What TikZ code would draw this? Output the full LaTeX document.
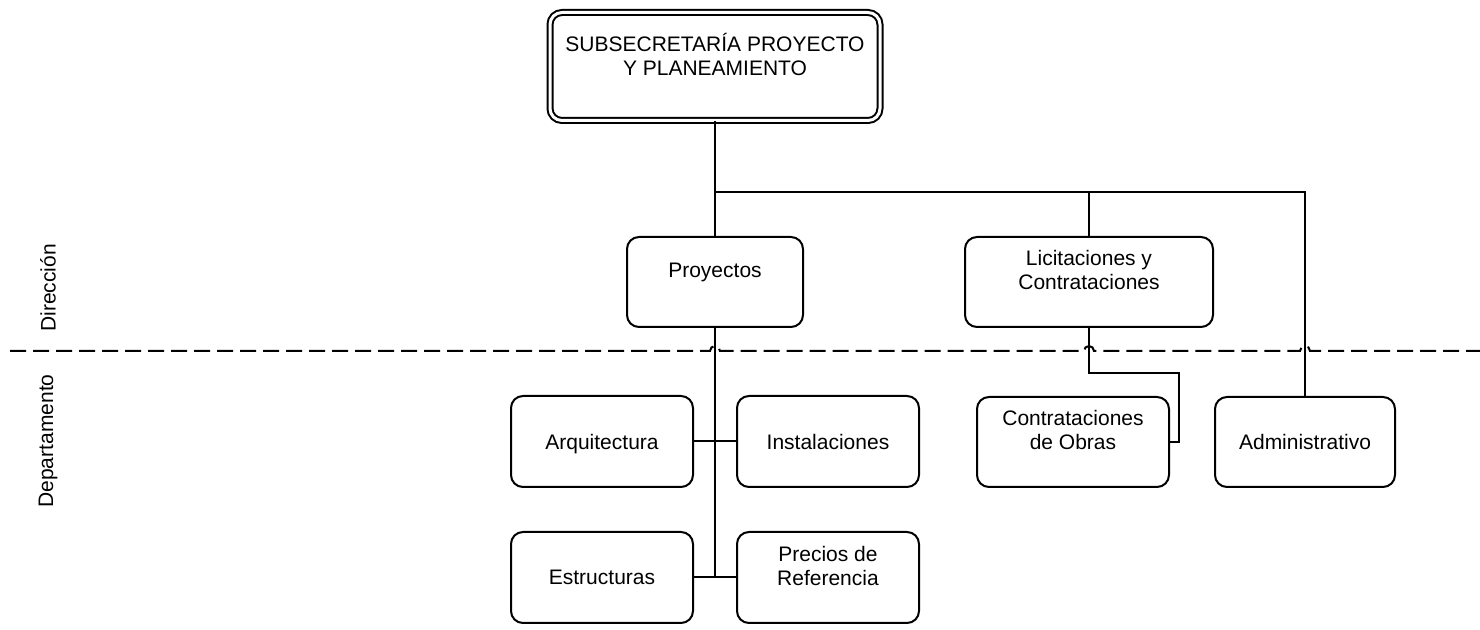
\documentclass[tikz,border=0pt]{standalone}
\usepackage{fontspec}
\setmainfont{Liberation Sans}
\begin{document}
\begin{tikzpicture}[x=0.5pt,y=-0.5pt,
  box/.style={draw=black, rounded corners=6pt, line width=1pt, align=center, font=\fontsize{10.5}{12}\selectfont, minimum height=45pt},
  link/.style={draw=black, line width=1pt},
  sep/.style={draw=black, line width=1pt, dash pattern=on 8pt off 3.5pt}]
\useasboundingbox (0,0) rectangle (1480,630);
\node [box, double, double distance=1.5pt, minimum width=165pt, minimum height=54pt] (sub) at (715,66.5) {SUBSECRETARÍA PROYECTO\\Y PLANEAMIENTO\\\mbox{}};
\node [box, minimum width=88pt] (pro) at (715,282) {Proyectos\\\mbox{}};
\node [box, minimum width=124pt] (lic) at (1089,282) {Licitaciones y\\Contrataciones\\\mbox{}};
\node [box, minimum width=91pt, minimum height=45.5pt, text depth=0pt] (arq) at (602,441.5) {Arquitectura};
\node [box, minimum width=91pt, minimum height=45.5pt] (ins) at (828,441.5) {Instalaciones};
\node [box, minimum width=91pt, minimum height=45.5pt] (est) at (602,577.5) {Estructuras};
\node [box, minimum width=91pt, minimum height=45.5pt] (pre) at (828,577.5) {Precios de\\Referencia\\\mbox{}};
\node [box, minimum width=96pt] (con) at (1073,442) {Contrataciones\\de Obras\\\mbox{}};
\node [box, minimum width=90pt] (adm) at (1305,442) {Administrativo};
\node [rotate=90, font=\fontsize{10.5}{12}\selectfont] (dir) at (48,288) {Dirección};
\node [rotate=90, font=\fontsize{10.5}{12}\selectfont] (dep) at (48,441) {Departamento};
\coordinate (bus) at (715,192);
\coordinate (bend) at (1179,373);
\draw [sep] (10,351) -- (710,351) arc[start angle=180, end angle=0, radius=2.5pt] -- (1084,351) arc[start angle=180, end angle=0, radius=2.5pt] -- (1300,351) arc[start angle=180, end angle=0, radius=2.5pt] -- (1480,351);
\draw [link] (sub.south) -- (pro.north);
\draw [link] (bus) -| (adm.north);
\draw [link] (bus -| lic.north) -- (lic.north);
\draw [link] (pro.south) -- (pro.south |- est.east);
\draw [link] (arq.east) -- (ins.west);
\draw [link] (est.east) -- (pre.west);
\draw [link] (lic.south) |- (bend) |- (con.east);
\end{tikzpicture}
\end{document}
